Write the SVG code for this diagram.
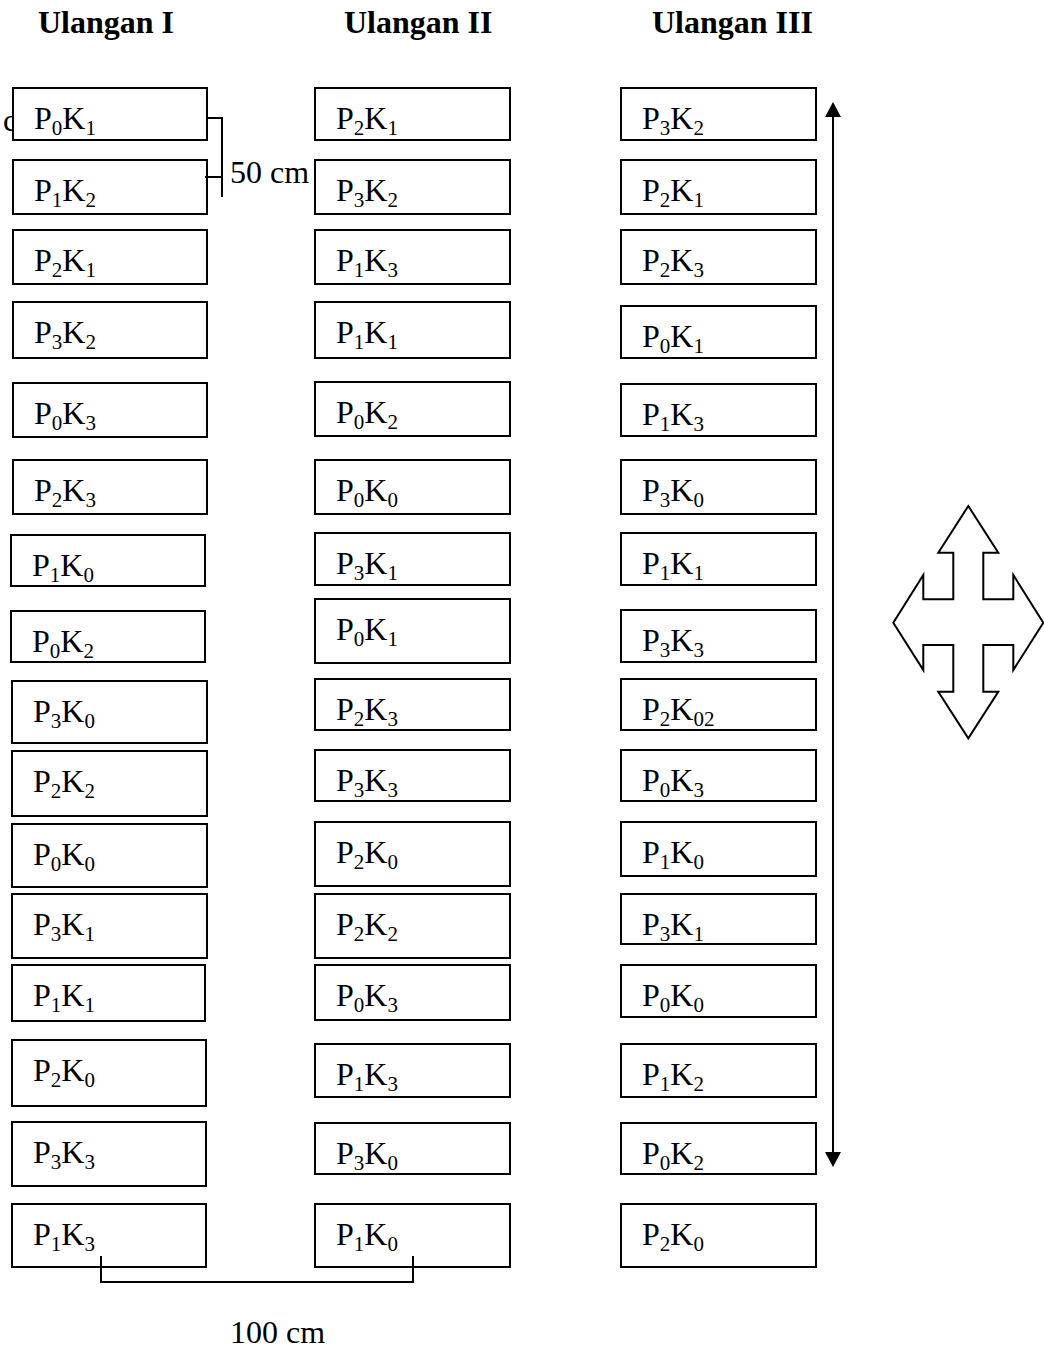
<svg xmlns="http://www.w3.org/2000/svg" width="1044" height="1349" viewBox="0 0 1044 1349">
<style>
text{font-family:"Liberation Serif","Times New Roman",serif;font-size:32px;fill:#000}
.h{font-weight:bold}
.s{font-size:21px}
rect{fill:#fff;stroke:#000;stroke-width:2}
.ln{fill:none;stroke:#000;stroke-width:2}
.ah{fill:#000}
</style>
<text class="h" x="38" y="33">Ulangan I</text>
<text class="h" x="344" y="33">Ulangan II</text>
<text class="h" x="652" y="33">Ulangan III</text>
<text x="3" y="131">c</text>
<g id="c1">
<g id="n1-1"><rect x="13" y="88" width="194" height="52"/><text x="34" y="129">P<tspan class="s" dy="6">0</tspan><tspan dy="-6">K</tspan><tspan class="s" dy="6">1</tspan></text></g>
<g id="n1-2"><rect x="13" y="160" width="194" height="54"/><text x="34" y="201">P<tspan class="s" dy="6">1</tspan><tspan dy="-6">K</tspan><tspan class="s" dy="6">2</tspan></text></g>
<g id="n1-3"><rect x="13" y="230" width="194" height="54"/><text x="34" y="271">P<tspan class="s" dy="6">2</tspan><tspan dy="-6">K</tspan><tspan class="s" dy="6">1</tspan></text></g>
<g id="n1-4"><rect x="13" y="302" width="194" height="56"/><text x="34" y="343">P<tspan class="s" dy="6">3</tspan><tspan dy="-6">K</tspan><tspan class="s" dy="6">2</tspan></text></g>
<g id="n1-5"><rect x="13" y="383" width="194" height="54"/><text x="34" y="424">P<tspan class="s" dy="6">0</tspan><tspan dy="-6">K</tspan><tspan class="s" dy="6">3</tspan></text></g>
<g id="n1-6"><rect x="13" y="460" width="194" height="54"/><text x="34" y="501">P<tspan class="s" dy="6">2</tspan><tspan dy="-6">K</tspan><tspan class="s" dy="6">3</tspan></text></g>
<g id="n1-7"><rect x="11" y="535" width="194" height="51"/><text x="32" y="576">P<tspan class="s" dy="6">1</tspan><tspan dy="-6">K</tspan><tspan class="s" dy="6">0</tspan></text></g>
<g id="n1-8"><rect x="11" y="611" width="194" height="51"/><text x="32" y="652">P<tspan class="s" dy="6">0</tspan><tspan dy="-6">K</tspan><tspan class="s" dy="6">2</tspan></text></g>
<g id="n1-9"><rect x="12" y="681" width="195" height="62"/><text x="33" y="722">P<tspan class="s" dy="6">3</tspan><tspan dy="-6">K</tspan><tspan class="s" dy="6">0</tspan></text></g>
<g id="n1-10"><rect x="12" y="751" width="195" height="65"/><text x="33" y="792">P<tspan class="s" dy="6">2</tspan><tspan dy="-6">K</tspan><tspan class="s" dy="6">2</tspan></text></g>
<g id="n1-11"><rect x="12" y="824" width="195" height="63"/><text x="33" y="865">P<tspan class="s" dy="6">0</tspan><tspan dy="-6">K</tspan><tspan class="s" dy="6">0</tspan></text></g>
<g id="n1-12"><rect x="12" y="894" width="195" height="64"/><text x="33" y="935">P<tspan class="s" dy="6">3</tspan><tspan dy="-6">K</tspan><tspan class="s" dy="6">1</tspan></text></g>
<g id="n1-13"><rect x="12" y="965" width="193" height="56"/><text x="33" y="1006">P<tspan class="s" dy="6">1</tspan><tspan dy="-6">K</tspan><tspan class="s" dy="6">1</tspan></text></g>
<g id="n1-14"><rect x="12" y="1040" width="194" height="66"/><text x="33" y="1081">P<tspan class="s" dy="6">2</tspan><tspan dy="-6">K</tspan><tspan class="s" dy="6">0</tspan></text></g>
<g id="n1-15"><rect x="12" y="1122" width="194" height="64"/><text x="33" y="1163">P<tspan class="s" dy="6">3</tspan><tspan dy="-6">K</tspan><tspan class="s" dy="6">3</tspan></text></g>
<g id="n1-16"><rect x="12" y="1204" width="194" height="63"/><text x="33" y="1245">P<tspan class="s" dy="6">1</tspan><tspan dy="-6">K</tspan><tspan class="s" dy="6">3</tspan></text></g>
</g>
<g id="c2">
<g id="n2-1"><rect x="315" y="88" width="195" height="52"/><text x="336" y="129">P<tspan class="s" dy="6">2</tspan><tspan dy="-6">K</tspan><tspan class="s" dy="6">1</tspan></text></g>
<g id="n2-2"><rect x="315" y="160" width="195" height="54"/><text x="336" y="201">P<tspan class="s" dy="6">3</tspan><tspan dy="-6">K</tspan><tspan class="s" dy="6">2</tspan></text></g>
<g id="n2-3"><rect x="315" y="230" width="195" height="54"/><text x="336" y="271">P<tspan class="s" dy="6">1</tspan><tspan dy="-6">K</tspan><tspan class="s" dy="6">3</tspan></text></g>
<g id="n2-4"><rect x="315" y="302" width="195" height="56"/><text x="336" y="343">P<tspan class="s" dy="6">1</tspan><tspan dy="-6">K</tspan><tspan class="s" dy="6">1</tspan></text></g>
<g id="n2-5"><rect x="315" y="382" width="195" height="54"/><text x="336" y="423">P<tspan class="s" dy="6">0</tspan><tspan dy="-6">K</tspan><tspan class="s" dy="6">2</tspan></text></g>
<g id="n2-6"><rect x="315" y="460" width="195" height="54"/><text x="336" y="501">P<tspan class="s" dy="6">0</tspan><tspan dy="-6">K</tspan><tspan class="s" dy="6">0</tspan></text></g>
<g id="n2-7"><rect x="315" y="533" width="195" height="52"/><text x="336" y="574">P<tspan class="s" dy="6">3</tspan><tspan dy="-6">K</tspan><tspan class="s" dy="6">1</tspan></text></g>
<g id="n2-8"><rect x="315" y="599" width="195" height="64"/><text x="336" y="640">P<tspan class="s" dy="6">0</tspan><tspan dy="-6">K</tspan><tspan class="s" dy="6">1</tspan></text></g>
<g id="n2-9"><rect x="315" y="679" width="195" height="51"/><text x="336" y="720">P<tspan class="s" dy="6">2</tspan><tspan dy="-6">K</tspan><tspan class="s" dy="6">3</tspan></text></g>
<g id="n2-10"><rect x="315" y="750" width="195" height="51"/><text x="336" y="791">P<tspan class="s" dy="6">3</tspan><tspan dy="-6">K</tspan><tspan class="s" dy="6">3</tspan></text></g>
<g id="n2-11"><rect x="315" y="822" width="195" height="64"/><text x="336" y="863">P<tspan class="s" dy="6">2</tspan><tspan dy="-6">K</tspan><tspan class="s" dy="6">0</tspan></text></g>
<g id="n2-12"><rect x="315" y="894" width="195" height="64"/><text x="336" y="935">P<tspan class="s" dy="6">2</tspan><tspan dy="-6">K</tspan><tspan class="s" dy="6">2</tspan></text></g>
<g id="n2-13"><rect x="315" y="965" width="195" height="55"/><text x="336" y="1006">P<tspan class="s" dy="6">0</tspan><tspan dy="-6">K</tspan><tspan class="s" dy="6">3</tspan></text></g>
<g id="n2-14"><rect x="315" y="1044" width="195" height="53"/><text x="336" y="1085">P<tspan class="s" dy="6">1</tspan><tspan dy="-6">K</tspan><tspan class="s" dy="6">3</tspan></text></g>
<g id="n2-15"><rect x="315" y="1123" width="195" height="51"/><text x="336" y="1164">P<tspan class="s" dy="6">3</tspan><tspan dy="-6">K</tspan><tspan class="s" dy="6">0</tspan></text></g>
<g id="n2-16"><rect x="315" y="1204" width="195" height="63"/><text x="336" y="1245">P<tspan class="s" dy="6">1</tspan><tspan dy="-6">K</tspan><tspan class="s" dy="6">0</tspan></text></g>
</g>
<g id="c3">
<g id="n3-1"><rect x="621" y="88" width="195" height="52"/><text x="642" y="129">P<tspan class="s" dy="6">3</tspan><tspan dy="-6">K</tspan><tspan class="s" dy="6">2</tspan></text></g>
<g id="n3-2"><rect x="621" y="160" width="195" height="54"/><text x="642" y="201">P<tspan class="s" dy="6">2</tspan><tspan dy="-6">K</tspan><tspan class="s" dy="6">1</tspan></text></g>
<g id="n3-3"><rect x="621" y="230" width="195" height="54"/><text x="642" y="271">P<tspan class="s" dy="6">2</tspan><tspan dy="-6">K</tspan><tspan class="s" dy="6">3</tspan></text></g>
<g id="n3-4"><rect x="621" y="306" width="195" height="52"/><text x="642" y="347">P<tspan class="s" dy="6">0</tspan><tspan dy="-6">K</tspan><tspan class="s" dy="6">1</tspan></text></g>
<g id="n3-5"><rect x="621" y="384" width="195" height="52"/><text x="642" y="425">P<tspan class="s" dy="6">1</tspan><tspan dy="-6">K</tspan><tspan class="s" dy="6">3</tspan></text></g>
<g id="n3-6"><rect x="621" y="460" width="195" height="54"/><text x="642" y="501">P<tspan class="s" dy="6">3</tspan><tspan dy="-6">K</tspan><tspan class="s" dy="6">0</tspan></text></g>
<g id="n3-7"><rect x="621" y="533" width="195" height="52"/><text x="642" y="574">P<tspan class="s" dy="6">1</tspan><tspan dy="-6">K</tspan><tspan class="s" dy="6">1</tspan></text></g>
<g id="n3-8"><rect x="621" y="610" width="195" height="52"/><text x="642" y="651">P<tspan class="s" dy="6">3</tspan><tspan dy="-6">K</tspan><tspan class="s" dy="6">3</tspan></text></g>
<g id="n3-9"><rect x="621" y="679" width="195" height="51"/><text x="642" y="720">P<tspan class="s" dy="6">2</tspan><tspan dy="-6">K</tspan><tspan class="s" dy="6">02</tspan></text></g>
<g id="n3-10"><rect x="621" y="750" width="195" height="51"/><text x="642" y="791">P<tspan class="s" dy="6">0</tspan><tspan dy="-6">K</tspan><tspan class="s" dy="6">3</tspan></text></g>
<g id="n3-11"><rect x="621" y="822" width="195" height="54"/><text x="642" y="863">P<tspan class="s" dy="6">1</tspan><tspan dy="-6">K</tspan><tspan class="s" dy="6">0</tspan></text></g>
<g id="n3-12"><rect x="621" y="894" width="195" height="50"/><text x="642" y="935">P<tspan class="s" dy="6">3</tspan><tspan dy="-6">K</tspan><tspan class="s" dy="6">1</tspan></text></g>
<g id="n3-13"><rect x="621" y="965" width="195" height="52"/><text x="642" y="1006">P<tspan class="s" dy="6">0</tspan><tspan dy="-6">K</tspan><tspan class="s" dy="6">0</tspan></text></g>
<g id="n3-14"><rect x="621" y="1044" width="195" height="53"/><text x="642" y="1085">P<tspan class="s" dy="6">1</tspan><tspan dy="-6">K</tspan><tspan class="s" dy="6">2</tspan></text></g>
<g id="n3-15"><rect x="621" y="1123" width="195" height="51"/><text x="642" y="1164">P<tspan class="s" dy="6">0</tspan><tspan dy="-6">K</tspan><tspan class="s" dy="6">2</tspan></text></g>
<g id="n3-16"><rect x="621" y="1204" width="195" height="63"/><text x="642" y="1245">P<tspan class="s" dy="6">2</tspan><tspan dy="-6">K</tspan><tspan class="s" dy="6">0</tspan></text></g>
</g>
<g id="connectors">
<path class="ln" d="M207,118 H222 V197 M205,177 H222"/>
<path class="ln" d="M101,1256 V1282 H413 V1256"/>
<line class="ln" x1="833" y1="114" x2="833" y2="1155"/>
<polygon class="ah" points="833,102 825,117 841,117"/>
<polygon class="ah" points="833,1167 825,1152 841,1152"/>
</g>
<text x="230" y="183">50 cm</text>
<text x="230" y="1343">100 cm</text>
<g id="compass">
<path fill="#fff" stroke="#000" stroke-width="2" d="M968.3,506 L998.3,552.7 H983.3 V599.3 H1013.3 V575 L1043.3,622.7 L1013.3,670 V645 H983.3 V691.7 H998.3 L968.3,738.3 L938.3,691.7 H953.3 V645 H923.3 V670 L893.3,622.7 L923.3,575 V599.3 H953.3 V552.7 H938.3 Z"/>
</g>
</svg>
